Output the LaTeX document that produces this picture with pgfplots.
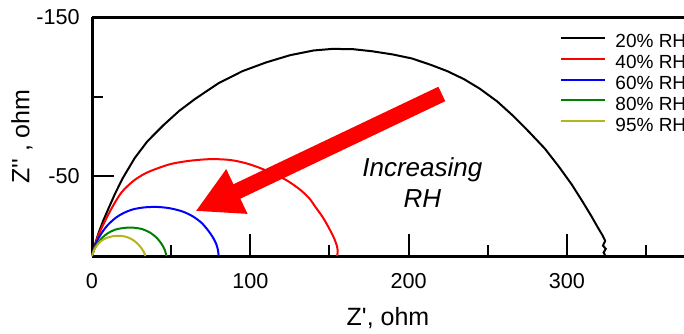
\documentclass[border=0pt]{standalone}
\usepackage{fontspec}
\setmainfont{Liberation Sans}
\usepackage{pgfplots}
\pgfplotsset{compat=1.18}
\usetikzlibrary{arrows.meta,calc}
\definecolor{cgreen}{RGB}{0,128,0}
\definecolor{colive}{RGB}{180,180,30}
\begin{document}
\begin{tikzpicture}
\begin{axis}[
  scale only axis, width=296pt, height=119.5pt,
  xmin=0, xmax=374, ymin=-150, ymax=0, y dir=reverse,
  axis x line=bottom, axis y line=left,
  axis line style={-, line width=1.5pt},
  tick align=inside,
  clip=false,
  xtick={0,100,200,300}, xticklabels={0,100,200,300},
  minor xtick={50,150,250,350},
  ytick={-150,-50}, yticklabels={-150,-50},
  minor ytick={-100},
  major tick length=11pt, minor tick length=5.5pt,
  every tick/.style={black, line width=1pt},
  tick label style={font=\fontsize{10.8}{12}\selectfont},
  xticklabel style={anchor=north, inner sep=0pt, yshift=-8.5pt},
  yticklabel style={anchor=east, inner sep=0pt, xshift=-6pt},
  xlabel={Z\textquotesingle, ohm},
  ylabel={Z\textquotesingle\textquotesingle\ , ohm},
  label style={font=\fontsize{12.5}{15}\selectfont},
  x label style={at={(axis description cs:0.5,-0.2594)}, anchor=center},
  y label style={at={(axis description cs:-0.1182,0.5)}, anchor=center},
  legend style={draw=none, fill=none, inner sep=0pt, at={(0.7907,0.9588)}, anchor=north west,
    row sep=0pt, column sep=5pt,
    nodes={inner sep=0pt, text height=10.2pt, text depth=0.25pt, font=\fontsize{9.5}{11}\selectfont}},
  legend cell align=left,
  legend image code/.code={\draw[#1] (0pt,0pt) -- (21.5pt,0pt);},
]
\addplot[black, line width=1pt] coordinates {
(0,0) (1.5,-6) (4,-14) (7,-22) (10.5,-30) (14.5,-39) (19.5,-49) (27,-61.5) (35,-72) (45,-82)
(55,-91) (65,-98.5) (80,-108.5) (95,-116) (110,-121.5) (125,-126) (140,-129) (152,-130)
(165,-129.8) (177,-128.5) (190,-126.5) (202,-124) (214,-120) (224.5,-116) (235,-111) (245,-105)
(256,-97) (266,-88) (276,-78) (286,-67.5) (295,-56) (303,-45) (310,-34) (315.5,-25) (319.5,-18)
(322.5,-13) (324.2,-9.5) (322.8,-6.5) (324.6,-4.5) (323.2,-2.2) (324.4,0)};
\addlegendentry{20\% RH}
\addplot[red, line width=1pt, smooth] coordinates {
(0,0) (2,-7) (4,-13) (8,-21.5) (13,-31) (18.7,-40) (26,-47) (33,-51.5) (40,-54.5) (50,-57.8)
(62,-59.8) (75,-60.8) (87,-60.3) (97,-58.3) (106,-55.3) (115,-51.5) (123,-47.5) (131,-42)
(137,-36.5) (141,-31) (146,-24) (150,-17) (153,-11) (154.8,-6) (155.2,-2.5) (154.8,0)};
\addlegendentry{40\% RH}
\addplot[blue, line width=1pt, smooth] coordinates {
(0,0) (1.5,-5) (3.5,-10) (6.5,-15) (10,-19.5) (15,-24) (20,-27) (26,-29.3) (33,-30.5)
(41,-30.8) (49,-30) (57,-28) (63.5,-25) (69,-21) (73,-16.5) (76.2,-12) (78.5,-7.5) (79.6,-3.5) (80,0)};
\addlegendentry{60\% RH}
\addplot[cgreen, line width=1pt, smooth] coordinates {
(0,0) (1.5,-4.5) (3.5,-8) (6.5,-11.5) (10,-14.3) (14.5,-16.5) (20,-17.6) (26,-17.8)
(32,-16.8) (37,-14.5) (41,-11.3) (44,-7.5) (46,-3.8) (47,0)};
\addlegendentry{80\% RH}
\addplot[colive, line width=1pt, smooth] coordinates {
(0,0) (1.2,-3.5) (3,-6.5) (5.5,-9.2) (9,-11.3) (13,-12.4) (17,-12.7) (21,-12.2) (25,-10.6)
(28.5,-8) (31.3,-4.8) (33,-2) (33.6,0)};
\addlegendentry{95\% RH}
\draw[line width=1.5pt] (axis cs:0,-150) -- (axis cs:374,-150);
\draw[red, line width=8pt, -{Triangle[length=23pt,width=23pt]}] (axis cs:221,-101.7) -- (axis cs:65.3,-28.1);
\node[font=\fontsize{13}{15.5}\selectfont\itshape, align=center] at (axis cs:208.7,-45.9) {Increasing\\RH};
\coordinate (BL) at (axis cs:0,0);
\coordinate (TR) at (axis cs:374,-150);
\end{axis}
\pgfresetboundingbox
\path ($(BL)+(-46pt,-38.5pt)$) rectangle ($(TR)+(0pt,8.5pt)$);
\end{tikzpicture}
\end{document}
